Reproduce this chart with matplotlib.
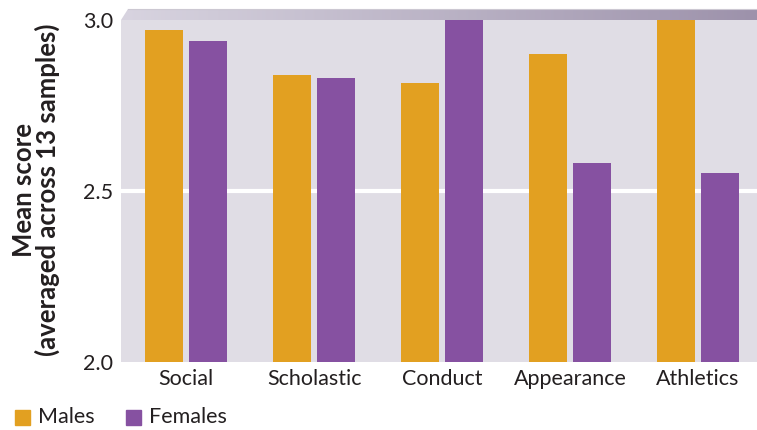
import matplotlib
matplotlib.use("Agg")
import matplotlib.pyplot as plt
import numpy as np
from matplotlib.patches import Polygon
from matplotlib.colors import LinearSegmentedColormap

plt.rcParams['font.family'] = ['Lato', 'DejaVu Sans']

categories = ["Social", "Scholastic", "Conduct", "Appearance", "Athletics"]
males = [2.971, 2.839, 2.816, 2.900, 3.000]
females = [2.939, 2.830, 3.000, 2.582, 2.553]
y_ticks = [2.0, 2.5, 3.0]
y_tick_labels = ["2.0", "2.5", "3.0"]
series_names = ["Males", "Females"]

male_color = "#E2A021"
female_color = "#8651A1"
text_color = "#231F20"

W, H = 757, 430
fig = plt.figure(figsize=(W / 100, H / 100), dpi=100)
ax = fig.add_axes([121 / W, 1 - 362 / H, (757 - 121) / W, (362 - 20) / H])
ax.set_facecolor("#E0DDE5")

x = np.arange(len(categories))
bw = 0.297
off = 0.172
ax.bar(x - off, males, width=bw, bottom=0, color=male_color, zorder=3)
ax.bar(x + off, females, width=bw, bottom=0, color=female_color, zorder=3)

ax.set_ylim(2.0, 3.0)
ax.set_xlim(-0.508, 4.46)
ax.axhline(2.5, color="white", lw=3, zorder=2)

ax.set_yticks(y_ticks)
ax.set_yticklabels(y_tick_labels, fontsize=15.5, color=text_color)
ax.set_xticks(x)
ax.set_xticklabels(categories, fontsize=15.5, color=text_color)
ax.tick_params(axis="both", length=0)
ax.tick_params(axis="y", pad=5.5)
ax.tick_params(axis="x", pad=5)
for s in ax.spines.values():
    s.set_visible(False)

fig.text(36 / W, 1 - 190 / H, "Mean score\n(averaged across 13 samples)",
         fontsize=18.5, fontweight="bold", color=text_color, linespacing=0.95,
         rotation=90, ha="center", va="center", multialignment="center")

# bevelled top band with gradient
band = fig.add_axes([0, 0, 1, 1], zorder=-1)
band.set_xlim(0, W)
band.set_ylim(H, 0)
band.axis("off")
cmap = LinearSegmentedColormap.from_list("band", ["#D8D4E0", "#9D92AB"])
grad = np.linspace(0, 1, 256).reshape(1, -1)
img = band.imshow(grad, cmap=cmap, extent=[121, 757, 20, 9], aspect="auto")
poly = Polygon([[128, 9], [757, 9], [757, 20], [121, 20]], closed=True,
               transform=band.transData, facecolor="none", edgecolor="none")
band.add_patch(poly)
img.set_clip_path(poly)
band.plot([128, 757], [9, 9], color="#CCC8D2", lw=0.8)

# legend
leg = fig.add_axes([0, 0, 1, 1], zorder=5)
leg.set_xlim(0, W)
leg.set_ylim(H, 0)
leg.axis("off")
for (sx, tx), name, col in zip([(15, 38), (126, 149)], series_names,
                               [male_color, female_color]):
    leg.add_patch(plt.Rectangle((sx, 410), 15, 15, color=col))
    leg.text(tx, 417, name, fontsize=15.5, color=text_color, va="center", ha="left")

fig.savefig("out.png", dpi=100)
